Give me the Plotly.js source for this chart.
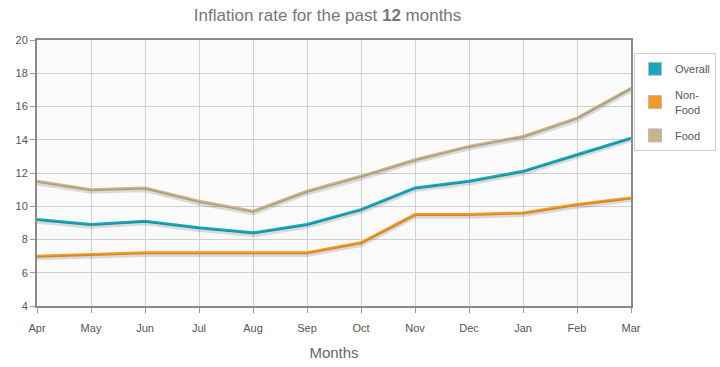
<!DOCTYPE html>
<html>
<head>
<meta charset="utf-8">
<script src="https://cdn.plot.ly/plotly-3.0.1.min.js"></script>
<style>html,body{margin:0;padding:0;background:#fff;}#chart{width:720px;height:367px;}</style>
</head>
<body>
<div id="chart"></div>
<script>
const months = ["Apr","May","Jun","Jul","Aug","Sep","Oct","Nov","Dec","Jan","Feb","Mar"];
const overall = [9.2, 8.9, 9.1, 8.7, 8.4, 8.9, 9.8, 11.1, 11.5, 12.1, 13.1, 14.1];
const nonFood = [7.0, 7.1, 7.2, 7.2, 7.2, 7.2, 7.8, 9.5, 9.5, 9.6, 10.1, 10.5];
const food = [11.5, 11.0, 11.1, 10.3, 9.7, 10.9, 11.8, 12.8, 13.6, 14.2, 15.3, 17.1];
const seriesNames = ["Overall", "Non-<br>Food", "Food"];
const seriesColors = ["#17a9bb", "#f39a26", "#c8b48a"];
const seriesData = [overall, nonFood, food];

const traces = [];
// drop shadows (drawn on a slightly shifted hidden axis)
seriesData.forEach((vals) => {
  traces.push({x: months, y: vals, type: 'scatter', mode: 'lines', yaxis: 'y2',
    line: {color: 'rgba(0,0,0,0.13)', width: 4}, showlegend: false, hoverinfo: 'skip'});
});
seriesData.forEach((vals, i) => {
  traces.push({x: months, y: vals, type: 'scatter', mode: 'lines', name: seriesNames[i],
    line: {color: seriesColors[i], width: 3}, showlegend: false});
});
// legend entries (square swatches)
seriesData.forEach((vals, i) => {
  traces.push({x: [null], y: [null], type: 'scatter', mode: 'markers', name: seriesNames[i],
    legendgroup: 'g' + i,
    marker: {symbol: 'square', size: 13, color: seriesColors[i], line: {color: '#bbb', width: 1}}, showlegend: true});
});

const layout = {
  width: 720, height: 367,
  margin: {l: 37, r: 89, t: 40, b: 61, autoexpand: false},
  paper_bgcolor: '#ffffff',
  plot_bgcolor: '#fafafa',
  font: {family: 'Liberation Sans, Arial, sans-serif', color: '#555', size: 11},
  title: {text: 'Inflation rate for the past <b>12</b> months', x: 0.455, xanchor: 'center', y: 0.975,
    font: {size: 17, color: '#777'}},
  xaxis: {type: 'category', range: [0, 11], showgrid: true, gridcolor: '#cfcfcf', gridwidth: 1,
    ticks: 'outside', ticklen: 5, tickcolor: '#999', showline: true, linecolor: '#8a8a8a', linewidth: 2,
    mirror: true, zeroline: false, tickfont: {size: 11, color: '#555'}, ticklabelstandoff: 6,
    title: {text: 'Months', font: {size: 15, color: '#666'}, standoff: 14}},
  yaxis: {range: [4, 20], dtick: 2, showgrid: true, gridcolor: '#cfcfcf', gridwidth: 1,
    ticks: 'outside', ticklen: 5, tickcolor: '#999', showline: true, linecolor: '#8a8a8a', linewidth: 2,
    mirror: true, zeroline: false, tickfont: {size: 11, color: '#555'}},
  yaxis2: {range: [4.13, 20.13], overlaying: 'y', visible: false},
  legend: {x: 1.005, xanchor: 'left', y: 0.95, yanchor: 'top', bgcolor: '#fff', bordercolor: '#ccc', borderwidth: 1,
    font: {size: 11, color: '#555'}, itemwidth: 30, traceorder: 'grouped', tracegroupgap: 8},
  showlegend: true
};
Plotly.newPlot('chart', traces, layout, {displayModeBar: false, staticPlot: true});
</script>
</body>
</html>
